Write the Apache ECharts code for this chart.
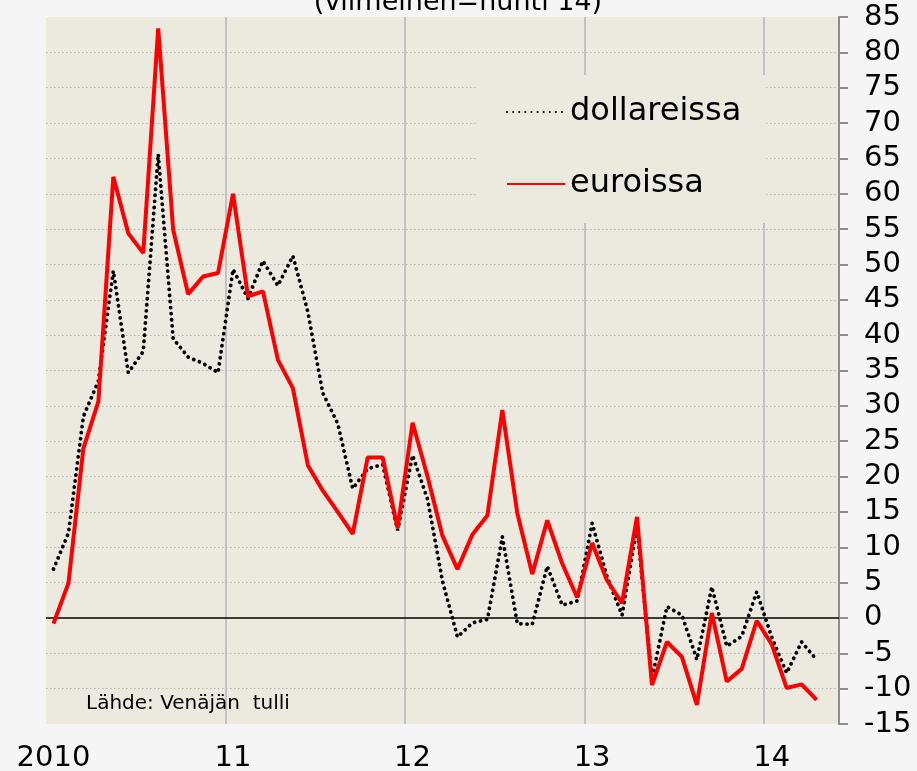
<!DOCTYPE html>
<html>
<head>
<meta charset="utf-8">
<script src="https://cdn.jsdelivr.net/npm/echarts@6/dist/echarts.min.js"></script>
<style>
html,body{margin:0;padding:0;background:#f5f5f5;}
#c{width:917px;height:771px;}
</style>
</head>
<body>
<div id="c"></div>
<script>
// Category axis: months Jan 2010 .. May 2014 (last month left empty)
const startYear = 2010;
const monthCount = 53;
const yearTickLabels = ['2010', '11', '12', '13', '14'];

// Year-on-year change, %
const dollareissa = [
  6.9, 12.0, 28.5, 33.5, 49.1, 34.7, 37.7, 65.6, 39.5, 36.9, 36.0, 34.7,
  49.3, 45.2, 50.5, 47.0, 51.2, 43.3, 31.8, 27.5, 18.3, 21.1, 21.7, 12.4,
  23.0, 16.8, 5.2, -2.7, -0.7, -0.2, 11.5, -0.8, -0.9, 7.3, 1.8, 2.4,
  13.4, 5.8, 0.4, 12.9, -8.6, 1.6, 0.4, -5.9, 4.4, -4.0, -2.6, 3.7,
  -2.7, -7.8, -3.4, -5.9
];
const euroissa = [
  -0.8, 4.9, 24.0, 30.6, 62.4, 54.4, 51.6, 83.4, 54.9, 45.8, 48.3, 48.8,
  60.0, 45.5, 46.2, 36.5, 32.5, 21.6, 18.0, 15.0, 11.9, 22.7, 22.7, 12.7,
  27.6, 20.0, 11.6, 6.9, 11.8, 14.5, 29.4, 14.8, 6.2, 13.8, 7.7, 2.9,
  10.6, 5.3, 2.1, 14.3, -9.5, -3.4, -5.5, -12.3, 0.7, -9.0, -7.2, -0.4,
  -3.7, -9.9, -9.4, -11.6
];
const seriesNames = ['dollareissa', 'euroissa'];
const titleText = '(viimeinen=huhti 14)';
const sourceText = 'Lähde: Venäjän  tulli';

const categories = [];
for (let i = 0; i < monthCount; i++) {
  categories.push((startYear + Math.floor(i / 12)) + '-' + (i % 12 + 1));
}

const FONT = 'DejaVu Sans';
const PLOT_BG = '#ECE9DF';

// split line colours per tick (-15 .. 85), hide the edges and zero
const splitColors = [];
for (let v = -15; v <= 85; v += 5) {
  splitColors.push((v === -15 || v === 85 || v === 0) ? 'rgba(0,0,0,0)' : '#b3b3b3');
}

const chart = echarts.init(document.getElementById('c'), null, {renderer: 'canvas'});
chart.setOption({
  backgroundColor: '#f5f5f5',
  animation: false,
  grid: {
    left: 46, right: 78, top: 17, bottom: 47,
    outerBoundsMode: 'none',
    containLabel: false,
    show: true, backgroundColor: PLOT_BG, borderWidth: 0
  },
  legend: {
    orient: 'vertical',
    left: 477, top: 75,
    backgroundColor: PLOT_BG,
    padding: [19, 25, 21, 29],
    itemWidth: 58, itemHeight: 1, itemGap: 36,
    itemStyle: {opacity: 0, borderWidth: 0},
    textStyle: {fontFamily: FONT, fontSize: 32, color: '#000', lineHeight: 36},
    data: seriesNames
  },
  xAxis: {
    type: 'category',
    data: categories,
    boundaryGap: true,
    axisLine: {show: false},
    axisTick: {show: false},
    axisLabel: {
      interval: function (i) { return i % 12 === 0; },
      formatter: function (v, i) { return yearTickLabels[Math.floor(i / 12)]; },
      fontFamily: FONT, fontSize: 29, color: '#000', margin: 20
    },
    splitLine: {
      show: true,
      interval: function (i) { return i % 12 === 0 && i > 0; },
      lineStyle: {color: '#c2c2c2', width: 2}
    }
  },
  yAxis: {
    type: 'value',
    position: 'right',
    min: -15, max: 85, interval: 5,
    axisLine: {show: true, lineStyle: {color: '#8c8c8c', width: 2}},
    axisTick: {show: true, length: 9, lineStyle: {color: '#8c8c8c', width: 2}},
    axisLabel: {fontFamily: FONT, fontSize: 29, color: '#000', margin: 25},
    splitLine: {show: true, lineStyle: {color: splitColors, type: [1.5, 2.5], width: 1}}
  },
  series: [
    {
      name: seriesNames[0],
      type: 'line',
      data: dollareissa,
      symbol: 'none',
      lineStyle: {color: '#000', width: 3.8, type: [0.1, 6], cap: 'round'},
      itemStyle: {color: '#000'},
      z: 3,
      markLine: {
        silent: true,
        symbol: 'none',
        z: 1,
        label: {show: false},
        lineStyle: {color: '#000', width: 1.5, type: 'solid'},
        data: [{yAxis: 0}]
      }
    },
    {
      name: seriesNames[1],
      type: 'line',
      data: euroissa,
      symbol: 'none',
      lineStyle: {color: '#ff0000', width: 4},
      itemStyle: {color: '#ff0000'},
      z: 4
    }
  ],
  graphic: [
    {
      type: 'text',
      style: {
        text: titleText, x: 458, y: 16,
        textAlign: 'center', textVerticalAlign: 'bottom',
        font: '27px "DejaVu Sans"', fill: '#000'
      }
    },
    {
      type: 'text',
      z: 10,
      style: {
        text: sourceText, x: 86, y: 704,
        textAlign: 'left', textVerticalAlign: 'middle',
        font: '20px "DejaVu Sans"', fill: '#000'
      }
    }
  ]
});
</script>
</body>
</html>
